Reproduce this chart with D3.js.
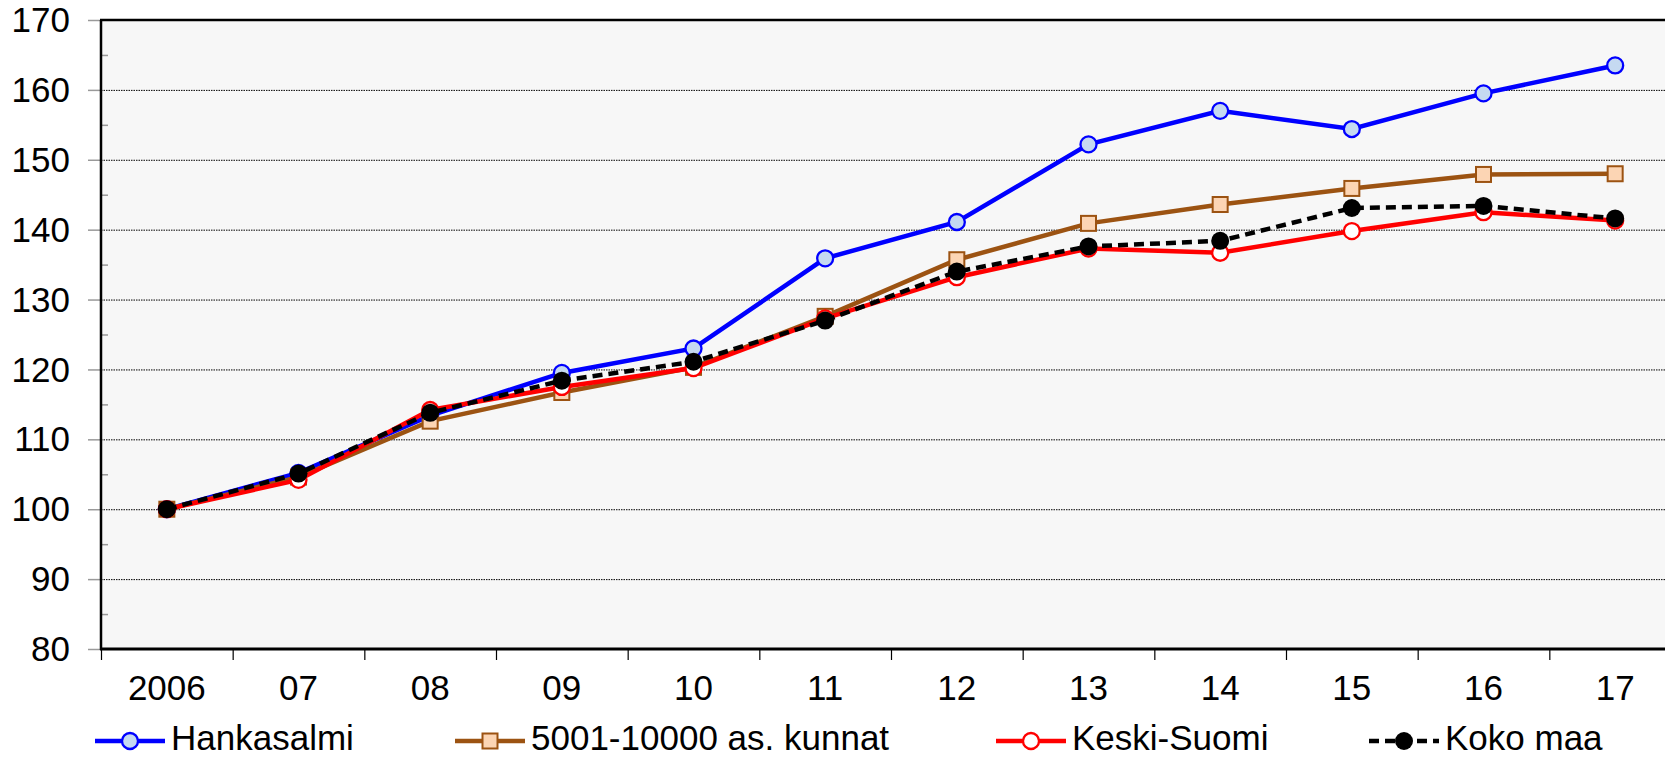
<!DOCTYPE html>
<html lang="fi">
<head>
    <meta charset="UTF-8">
    <script src="https://cdn.jsdelivr.net/npm/d3@7"></script>
    <title>Indeksi 2006 = 100</title>
    <style>
        body { margin: 0; background: #fff; }
        svg text { font-family: "Liberation Sans", Arial, sans-serif; fill: #000; }
    </style>
</head>
<body>
    <div class="visual"></div>
    <script>
        // Data
        const years = ["2006", "07", "08", "09", "10", "11", "12", "13", "14", "15", "16", "17"];
        const hankasalmi = [100, 105.2, 113.4, 119.5, 123.0, 135.9, 141.1, 152.2, 157.0, 154.4, 159.5, 163.5];
        const kunnat5001 = [100, 104.6, 112.6, 116.7, 120.3, 127.6, 135.7, 140.9, 143.6, 145.9, 147.9, 148.0];
        const keskiSuomi = [100, 104.2, 114.2, 117.5, 120.2, 127.3, 133.2, 137.3, 136.7, 139.8, 142.5, 141.3];
        const kokoMaa = [100, 105.1, 113.8, 118.4, 121.1, 127.0, 134.0, 137.6, 138.4, 143.1, 143.4, 141.6];
        const yTicks = [80, 90, 100, 110, 120, 130, 140, 150, 160, 170];
        const yMinor = [85, 95, 105, 115, 125, 135, 145, 155, 165];

        const seriesList = [
            { name: "Hankasalmi", values: hankasalmi, color: "#0000ff", fill: "#c5d9f1", marker: "circle", dash: null, lx: 95 },
            { name: "5001-10000 as. kunnat", values: kunnat5001, color: "#9c5312", fill: "#fcd5b4", marker: "square", dash: null, lx: 455 },
            { name: "Keski-Suomi", values: keskiSuomi, color: "#ff0000", fill: "#ffffff", marker: "circle", dash: null, lx: 996 },
            { name: "Koko maa", values: kokoMaa, color: "#000000", fill: "#000000", marker: "dot", dash: "10,6", lx: 1369 }
        ];

        const width = 1665, height = 758;
        const plot = { left: 101, right: 1681, top: 20, bottom: 649 };

        const svg = d3.select(".visual").append("svg")
            .attr("width", width)
            .attr("height", height);

        const x = d3.scaleBand().domain(years).range([plot.left, plot.right]);
        const y = d3.scaleLinear().domain([80, 170]).range([plot.bottom, plot.top]);

        // plot background
        svg.append("rect")
            .attr("x", plot.left).attr("y", plot.top)
            .attr("width", plot.right - plot.left).attr("height", plot.bottom - plot.top)
            .attr("fill", "#f7f7f7");

        // gridlines
        svg.append("g").selectAll("line")
            .data(yTicks.slice(1, -1))
            .enter().append("line")
            .attr("x1", plot.left).attr("x2", plot.right)
            .attr("y1", d => y(d) + 0.5).attr("y2", d => y(d) + 0.5)
            .attr("stroke", "#000").attr("stroke-width", 1)
            .attr("stroke-dasharray", "1.5,1");

        // y axis (labels + outer ticks)
        const yAxis = svg.append("g")
            .attr("transform", `translate(${plot.left},0)`)
            .call(d3.axisLeft(y).tickValues(yTicks).tickSize(13).tickPadding(18));
        yAxis.select(".domain").remove();
        yAxis.selectAll(".tick line").attr("stroke", "#999").attr("stroke-width", 1.5);
        yAxis.selectAll(".tick text")
            .attr("font-size", 35)
            .attr("dy", "0.33em");

        // minor ticks inside
        const yMinorAxis = svg.append("g")
            .attr("transform", `translate(${plot.left},0)`)
            .call(d3.axisRight(y).tickValues(yMinor).tickSize(7).tickFormat(""));
        yMinorAxis.select(".domain").remove();
        yMinorAxis.selectAll(".tick line").attr("stroke", "#999").attr("stroke-width", 1.5);

        // x axis labels
        const xAxis = svg.append("g")
            .attr("transform", `translate(0,${plot.bottom})`)
            .call(d3.axisBottom(x).tickSize(0).tickPadding(26));
        xAxis.select(".domain").remove();
        xAxis.selectAll(".tick text").attr("font-size", 35);

        // x ticks at category boundaries
        svg.append("g").selectAll("line")
            .data(years)
            .enter().append("line")
            .attr("x1", d => x(d) + 0.5).attr("x2", d => x(d) + 0.5)
            .attr("y1", plot.bottom).attr("y2", plot.bottom + 11)
            .attr("stroke", "#000").attr("stroke-width", 1.2);

        // frame
        svg.append("line")
            .attr("x1", plot.left - 1).attr("x2", width)
            .attr("y1", plot.top).attr("y2", plot.top)
            .attr("stroke", "#000").attr("stroke-width", 2.5);
        svg.append("line")
            .attr("x1", plot.left).attr("x2", plot.left)
            .attr("y1", plot.top).attr("y2", plot.bottom + 1)
            .attr("stroke", "#000").attr("stroke-width", 2.5);
        svg.append("line")
            .attr("x1", plot.left - 1).attr("x2", width)
            .attr("y1", plot.bottom).attr("y2", plot.bottom)
            .attr("stroke", "#000").attr("stroke-width", 3);

        const cx = d => x(d) + x.bandwidth() / 2;

        const drawMarker = (g, s, px, py) => {
            if (s.marker === "square") {
                g.append("rect")
                    .attr("x", px - 7.5).attr("y", py - 7.5)
                    .attr("width", 15).attr("height", 15)
                    .attr("fill", s.fill).attr("stroke", s.color).attr("stroke-width", 2);
            } else if (s.marker === "dot") {
                g.append("circle")
                    .attr("cx", px).attr("cy", py).attr("r", 9)
                    .attr("fill", s.fill);
            } else {
                g.append("circle")
                    .attr("cx", px).attr("cy", py).attr("r", 8)
                    .attr("fill", s.fill).attr("stroke", s.color).attr("stroke-width", 2.3);
            }
        };

        const lineGen = d3.line()
            .x((d, i) => cx(years[i]))
            .y(d => y(d));

        seriesList.forEach(s => {
            const g = svg.append("g");
            g.append("path")
                .datum(s.values)
                .attr("d", lineGen)
                .attr("fill", "none")
                .attr("stroke", s.color)
                .attr("stroke-width", 4.5)
                .attr("stroke-dasharray", s.dash);
            s.values.forEach((v, i) => drawMarker(g, s, cx(years[i]), y(v)));
        });

        // legend
        const legY = 741;
        seriesList.forEach(s => {
            const g = svg.append("g");
            g.append("line")
                .attr("x1", s.lx).attr("x2", s.lx + 70)
                .attr("y1", legY).attr("y2", legY)
                .attr("stroke", s.color).attr("stroke-width", 4.5)
                .attr("stroke-dasharray", s.dash);
            drawMarker(g, s, s.lx + 35, legY);
            g.append("text")
                .attr("x", s.lx + 76).attr("y", 750)
                .attr("font-size", 35)
                .text(s.name);
        });
    </script>
</body>
</html>
